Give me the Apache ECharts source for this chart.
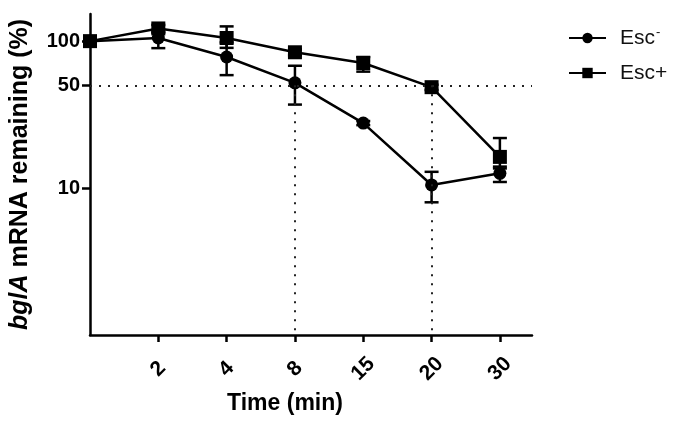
<!DOCTYPE html>
<html>
<head>
<meta charset="utf-8">
<script src="https://cdn.jsdelivr.net/npm/echarts@6/dist/echarts.min.js"></script>
<style>html,body{margin:0;padding:0;background:#fff}#c{width:680px;height:422px}</style>
</head>
<body>
<div id="c"></div>
<script>
var timeLabels = ['0', '2', '4', '8', '15', '20', '30'];
var escMinus = [100, 105, 78, 52, 27.7, 10.5, 12.6];
var escMinusLow = [98, 89.6, 58.7, 37, 26.8, 8.0, 11.0];
var escMinusHigh = [102, 116, 98, 68, 28.6, 12.9, 14.0];
var escPlus = [100, 122, 105, 84, 71, 48.6, 16.3];
var escPlusLow = [98, 114, 90, 80, 62, 46.5, 13.6];
var escPlusHigh = [102, 129, 126, 88, 78, 50.5, 21.9];
var yTicks = [10, 50, 100];

function pts(vals) { return vals.map(function (v, i) { return [i, v]; }); }
function errs(lo, hi) { return lo.map(function (v, i) { return [i, v, hi[i]]; }); }

function errRender(params, api) {
  var x = api.value(0);
  var lo = api.coord([x, api.value(1)]);
  var hi = api.coord([x, api.value(2)]);
  var w = 7;
  var st = { stroke: '#000', lineWidth: 2.5 };
  return {
    type: 'group',
    children: [
      { type: 'line', shape: { x1: lo[0], y1: lo[1], x2: hi[0], y2: hi[1] }, style: st },
      { type: 'line', shape: { x1: lo[0] - w, y1: lo[1], x2: lo[0] + w, y2: lo[1] }, style: st },
      { type: 'line', shape: { x1: hi[0] - w, y1: hi[1], x2: hi[0] + w, y2: hi[1] }, style: st }
    ]
  };
}

var FF = 'Liberation Sans, Arial, sans-serif';
var chart = echarts.init(document.getElementById('c'), null, { renderer: 'canvas' });
var xMax = 6.47;
chart.setOption({
  animation: false,
  backgroundColor: '#fff',
  grid: { left: 89, top: 14, right: 148, bottom: 87 },
  legend: {
    orient: 'vertical',
    left: 563,
    top: 21,
    itemGap: 14,
    itemWidth: 37,
    itemHeight: 13,
    data: ['Esc-', 'Esc+'],
    textStyle: {
      fontFamily: FF,
      fontSize: 21,
      color: '#111',
      rich: {
        a: { fontSize: 21, color: '#111', fontFamily: FF, padding: [0, 0, 0, 9] },
        s: { fontSize: 13, color: '#111', verticalAlign: 'top', padding: [0, 0, 11, 1], fontFamily: FF }
      }
    },
    formatter: function (n) {
      if (n === 'Esc-') return '{a|Esc}{s|-}';
      return '{a|' + n + '}';
    }
  },
  xAxis: {
    type: 'value',
    min: 0,
    max: xMax,
    name: 'Time (min)',
    nameLocation: 'middle',
    nameGap: 57,
    nameTextStyle: { fontFamily: FF, fontWeight: 'bold', fontSize: 23, color: '#000', padding: [0, 52, 0, 0] },
    axisLine: { onZero: false, lineStyle: { color: '#000', width: 2.5 } },
    axisTick: { show: true, length: 7, lineStyle: { color: '#000', width: 2.5 }, customValues: [1, 2, 3, 4, 5, 6] },
    axisLabel: {
      customValues: [1, 2, 3, 4, 5, 6],
      rotate: 45,
      margin: 34,
      align: 'center',
      verticalAlign: 'middle',
      fontFamily: FF,
      fontWeight: 'bold',
      fontSize: 21,
      color: '#000',
      formatter: function (v) { return timeLabels[Math.round(v)]; }
    },
    splitLine: { show: false }
  },
  yAxis: {
    type: 'log',
    logBase: 10,
    min: 1,
    max: 153,
    name: '{i|bglA} mRNA remaining (%)',
    nameLocation: 'middle',
    nameGap: 57,
    nameRotate: 90,
    nameTextStyle: {
      fontFamily: FF, fontWeight: 'bold', fontSize: 25, color: '#000',
      rich: { i: { fontStyle: 'italic', fontWeight: 'bold', fontSize: 25, color: '#000', fontFamily: FF } }
    },
    axisLine: { show: true, lineStyle: { color: '#000', width: 2.5 } },
    axisTick: { show: true, length: 8, lineStyle: { color: '#000', width: 2.5 }, customValues: yTicks },
    axisLabel: {
      customValues: yTicks,
      margin: 10,
      fontFamily: FF,
      fontWeight: 'bold',
      fontSize: 20,
      color: '#000'
    },
    splitLine: { show: false },
    minorTick: { show: false }
  },
  series: [
    {
      name: 'Esc-',
      type: 'line',
      data: pts(escMinus),
      symbol: 'circle',
      symbolSize: 13,
      itemStyle: { color: '#000' },
      lineStyle: { color: '#000', width: 2.5 },
      z: 3,
      markLine: {
        silent: true,
        symbol: 'none',
        label: { show: false },
        lineStyle: { color: '#222', width: 2, type: [2, 7] },
        data: [
          [{ coord: [0, 50] }, { coord: [xMax, 50] }],
          [{ coord: [3, 50] }, { coord: [3, 1] }],
          [{ coord: [5, 50] }, { coord: [5, 1] }]
        ]
      }
    },
    {
      name: 'Esc+',
      type: 'line',
      data: pts(escPlus),
      symbol: 'rect',
      symbolSize: 14,
      itemStyle: { color: '#000' },
      lineStyle: { color: '#000', width: 2.5 },
      z: 3
    },
    {
      type: 'custom',
      renderItem: errRender,
      data: errs(escMinusLow, escMinusHigh),
      z: 4,
      silent: true
    },
    {
      type: 'custom',
      renderItem: errRender,
      data: errs(escPlusLow, escPlusHigh),
      z: 4,
      silent: true
    }
  ]
});
</script>
</body>
</html>
